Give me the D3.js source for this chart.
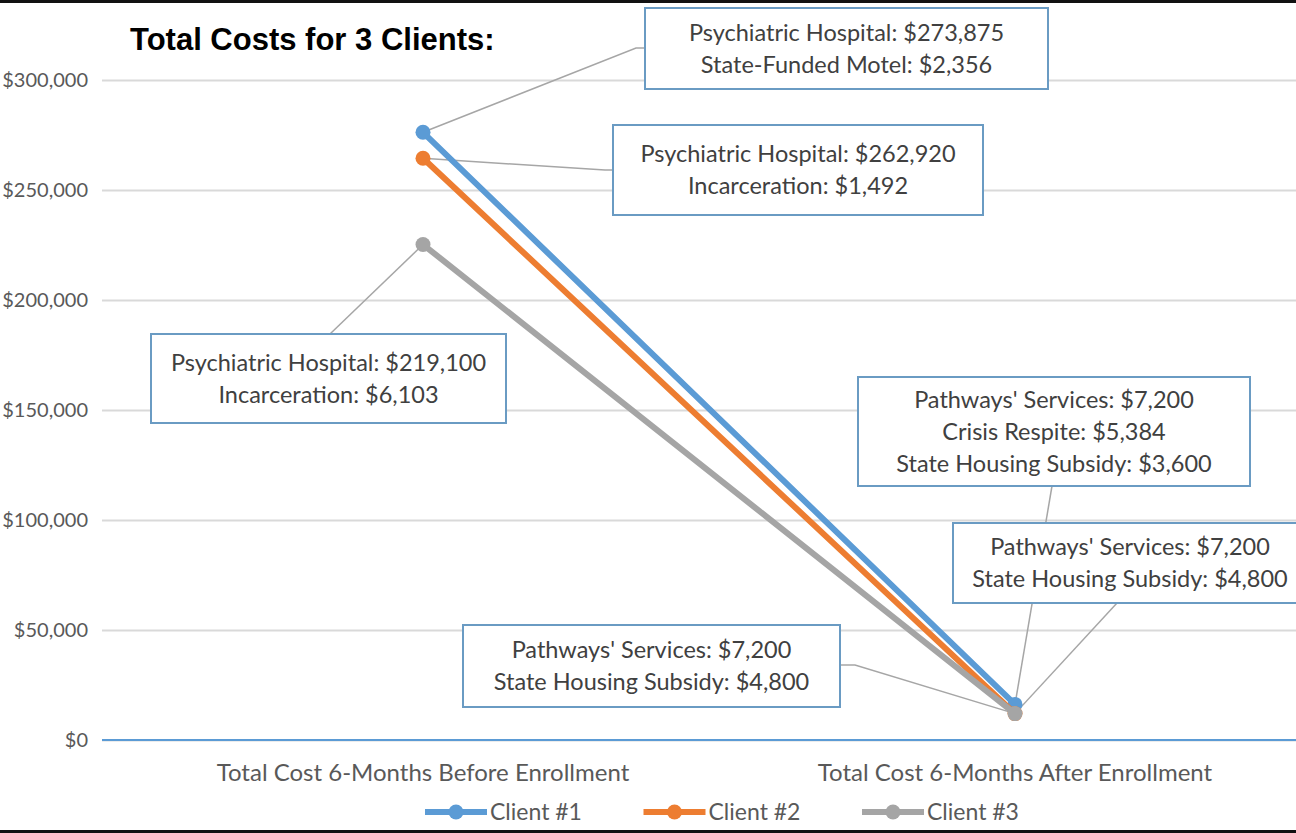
<!DOCTYPE html>
<html lang="en">
<head>
<meta charset="UTF-8">
<title>Total Costs for 3 Clients</title>
<script src="https://d3js.org/d3.v7.min.js"></script>
<style>
  body { margin: 0; background: #fff; }
  svg { display: block; }
  text { font-family: Lato, "Open Sans", sans-serif; }
</style>
</head>
<body>
<div id="chart"></div>
<script>
// categories and series
var categories = ["Total Cost 6-Months Before Enrollment", "Total Cost 6-Months After Enrollment"];
var clients = ["Client #1", "Client #2", "Client #3"];
var client1 = [276231, 16184];
var client2 = [264412, 12000];
var client3 = [225203, 12000];
var colors = ["#5B9BD5", "#ED7D31", "#A5A5A5"];
var yTicks = [0, 50000, 100000, 150000, 200000, 250000, 300000];

// callout text: [client index, category index, lines]
var notes = [
  [0, 0, ["Psychiatric Hospital: $273,875", "State-Funded Motel: $2,356"]],
  [1, 0, ["Psychiatric Hospital: $262,920", "Incarceration: $1,492"]],
  [2, 0, ["Psychiatric Hospital: $219,100", "Incarceration: $6,103"]],
  [0, 1, ["Pathways' Services: $7,200", "Crisis Respite: $5,384", "State Housing Subsidy: $3,600"]],
  [1, 1, ["Pathways' Services: $7,200", "State Housing Subsidy: $4,800"]],
  [2, 1, ["Pathways' Services: $7,200", "State Housing Subsidy: $4,800"]]
];

var series = [client1, client2, client3];
var W = 1296, H = 833;

var svg = d3.select("#chart").append("svg")
    .attr("width", W)
    .attr("height", H);

var x = d3.scaleBand().domain(categories).range([127, 1311]);
var y = d3.scaleLinear().domain([0, 300000]).range([740, 80]);
function cx(i) { return x(categories[i]) + x.bandwidth() / 2; }

// frame bars top / bottom
svg.append("rect").attr("x", 0).attr("y", 0).attr("width", W).attr("height", 3).attr("fill", "#111");
svg.append("rect").attr("x", 0).attr("y", 830).attr("width", W).attr("height", 3).attr("fill", "#111");

// y axis + gridlines
var yAxis = d3.axisLeft(y)
    .tickValues(yTicks)
    .tickFormat(d3.format("$,"))
    .tickSize(-(W - 102))
    .tickPadding(14);

var ga = svg.append("g").attr("transform", "translate(102,0)").call(yAxis);
ga.select(".domain").remove();
ga.selectAll(".tick line").attr("stroke", "#D9D9D9").attr("stroke-width", 2);
ga.selectAll(".tick text")
    .attr("fill", "#595959")
    .attr("font-size", "20px")
    .style("font-family", "Lato, sans-serif");

// baseline at $0
svg.append("line")
    .attr("x1", 102).attr("x2", W)
    .attr("y1", y(0)).attr("y2", y(0))
    .attr("stroke", "#5B9BD5").attr("stroke-width", 2);

// category labels
svg.selectAll(".cat").data(categories).enter().append("text")
    .attr("class", "cat")
    .attr("x", function(d, i) { return cx(i); })
    .attr("y", 781)
    .attr("text-anchor", "middle")
    .attr("fill", "#595959")
    .attr("font-size", "24px")
    .text(function(d) { return d; });

// title
svg.append("text")
    .attr("x", 130).attr("y", 50)
    .attr("font-size", "31px")
    .attr("font-weight", "bold")
    .attr("fill", "#000")
    .style("font-family", "'Liberation Sans', Arial, sans-serif")
    .text("Total Costs for 3 Clients:");

// callout boxes: layout [x, y, w, h, leader points...]
var boxes = [
  {x: 645, y: 8, w: 403, h: 81, lead: [[636, 48], [645, 48]]},
  {x: 613, y: 125, w: 370, h: 90, lead: [[605, 170], [613, 170]]},
  {x: 151, y: 334, w: 355, h: 89, lead: [[330, 334]]},
  {x: 858, y: 377, w: 392, h: 109, lead: [[1052, 486]]},
  {x: 953, y: 523, w: 350, h: 80, lead: [[1117, 603]]},
  {x: 463, y: 625, w: 377, h: 82, lead: [[855, 665], [840, 665]]}
];

var gNotes = svg.append("g");
var gLines = svg.append("g");

notes.forEach(function(n, k) {
  var b = boxes[k];
  var px = cx(n[1]), py = y(series[n[0]][n[1]]);
  var pts = [[px, py]].concat(b.lead);
  gNotes.append("path")
      .attr("d", d3.line()(pts))
      .attr("fill", "none")
      .attr("stroke", "#A6A6A6")
      .attr("stroke-width", 1.5);
});

notes.forEach(function(n, k) {
  var b = boxes[k];
  var g = gNotes.append("g");
  g.append("rect")
      .attr("x", b.x).attr("y", b.y)
      .attr("width", b.w).attr("height", b.h)
      .attr("fill", "#fff")
      .attr("stroke", "#6A9BC3")
      .attr("stroke-width", 2);
  var lh = 32;
  var top = b.y + b.h / 2 - (n[2].length - 1) * lh / 2;
  g.selectAll("text").data(n[2]).enter().append("text")
      .attr("x", b.x + b.w / 2 + (k == 4 ? 2 : 0))
      .attr("y", function(d, i) { return top + i * lh; })
      .attr("dy", "0.35em")
      .attr("text-anchor", "middle")
      .attr("fill", "#404040")
      .attr("font-size", "23.5px")
      .text(function(d) { return d; });
});

// series lines and markers
var line = d3.line()
    .x(function(d, i) { return cx(i); })
    .y(function(d) { return y(d); });

series.forEach(function(s, k) {
  var g = gLines.append("g");
  g.append("path")
      .attr("d", line(s))
      .attr("fill", "none")
      .attr("stroke", colors[k])
      .attr("stroke-width", 6)
      .attr("stroke-linecap", "round");
  g.selectAll("circle").data(s).enter().append("circle")
      .attr("cx", function(d, i) { return cx(i); })
      .attr("cy", function(d) { return y(d); })
      .attr("r", 7.5)
      .attr("fill", colors[k]);
});

// legend
var leg = svg.append("g");
clients.forEach(function(c, k) {
  var lx = 425 + k * 218.5;
  leg.append("line")
      .attr("x1", lx).attr("x2", lx + 62)
      .attr("y1", 812).attr("y2", 812)
      .attr("stroke", colors[k]).attr("stroke-width", 6);
  leg.append("circle")
      .attr("cx", lx + 31).attr("cy", 812).attr("r", 7.5)
      .attr("fill", colors[k]);
  leg.append("text")
      .attr("x", lx + 65).attr("y", 812)
      .attr("dy", "0.35em")
      .attr("fill", "#595959")
      .attr("font-size", "23px")
      .text(c);
});
</script>
</body>
</html>
